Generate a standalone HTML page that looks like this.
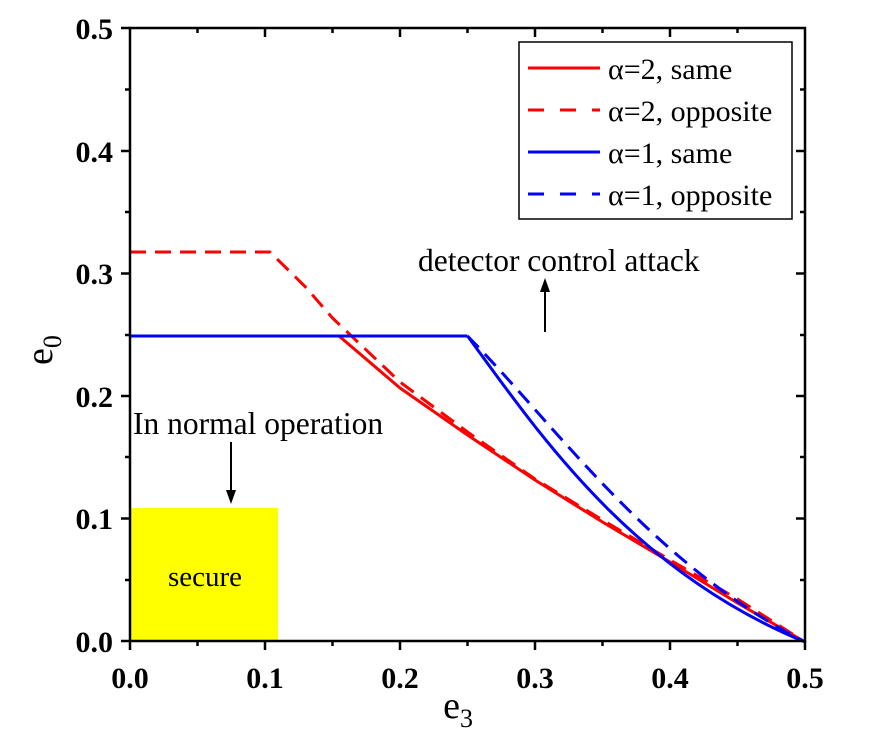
<!DOCTYPE html>
<html><head><meta charset="utf-8"><style>
body{margin:0;background:#fff;}
svg{display:block;font-family:"Liberation Serif",serif;}
</style></head><body>
<svg width="870" height="735" viewBox="0 0 870 735" xmlns="http://www.w3.org/2000/svg">
<rect width="870" height="735" fill="#fff"/>
<rect x="130" y="508" width="148" height="134" fill="#ffff00"/>
<text x="205" y="586" font-size="29" text-anchor="middle">secure</text>
<g fill="none" stroke-width="3" stroke-linejoin="round">
<polyline stroke="#ff0000" points="339,336 400,388 467.5,435 535,480 602.5,522 670,562 737.5,603 805,642"/>
<polyline stroke="#ff0000" stroke-dasharray="16,9" points="130,252 270,252 305.5,287 332.5,318 400,382 467.5,432 535,479 602.5,520 670,560 737.5,599 805,642"/>
<polyline stroke="#0000ff" points="130,336 467.5,336"/>
<path stroke="#0000ff" d="M467.5,336 C538,432 630,570 805,642"/>
<path stroke="#0000ff" stroke-dasharray="16,9" d="M467.5,336 C558,428 650,562 805,642"/>
</g>
<g stroke="#000" stroke-width="2.5" fill="none">
<rect x="130" y="28" width="675" height="613"/>
</g>
<g stroke="#000" stroke-width="2.5">
<line x1="130" y1="641" x2="130" y2="650"/><line x1="265" y1="641" x2="265" y2="650"/><line x1="400" y1="641" x2="400" y2="650"/><line x1="535" y1="641" x2="535" y2="650"/><line x1="670" y1="641" x2="670" y2="650"/><line x1="805" y1="641" x2="805" y2="650"/>
<line x1="197.5" y1="641" x2="197.5" y2="646"/><line x1="332.5" y1="641" x2="332.5" y2="646"/><line x1="467.5" y1="641" x2="467.5" y2="646"/><line x1="602.5" y1="641" x2="602.5" y2="646"/><line x1="737.5" y1="641" x2="737.5" y2="646"/>
<line x1="265" y1="28" x2="265" y2="37"/><line x1="400" y1="28" x2="400" y2="37"/><line x1="535" y1="28" x2="535" y2="37"/><line x1="670" y1="28" x2="670" y2="37"/>
<line x1="197.5" y1="28" x2="197.5" y2="33"/><line x1="332.5" y1="28" x2="332.5" y2="33"/><line x1="467.5" y1="28" x2="467.5" y2="33"/><line x1="602.5" y1="28" x2="602.5" y2="33"/><line x1="737.5" y1="28" x2="737.5" y2="33"/>
<line x1="121" y1="28" x2="130" y2="28"/><line x1="121" y1="151" x2="130" y2="151"/><line x1="121" y1="273.5" x2="130" y2="273.5"/><line x1="121" y1="396" x2="130" y2="396"/><line x1="121" y1="518.5" x2="130" y2="518.5"/><line x1="121" y1="641" x2="130" y2="641"/>
<line x1="125" y1="89.5" x2="130" y2="89.5"/><line x1="125" y1="212" x2="130" y2="212"/><line x1="125" y1="335" x2="130" y2="335"/><line x1="125" y1="457" x2="130" y2="457"/><line x1="125" y1="580" x2="130" y2="580"/>
<line x1="796" y1="151" x2="805" y2="151"/><line x1="796" y1="273.5" x2="805" y2="273.5"/><line x1="796" y1="396" x2="805" y2="396"/><line x1="796" y1="518.5" x2="805" y2="518.5"/>
<line x1="800" y1="89.5" x2="805" y2="89.5"/><line x1="800" y1="212" x2="805" y2="212"/><line x1="800" y1="335" x2="805" y2="335"/><line x1="800" y1="457" x2="805" y2="457"/><line x1="800" y1="580" x2="805" y2="580"/>
</g>
<g font-size="30" font-weight="bold" text-anchor="end">
<text x="113" y="39">0.5</text><text x="113" y="162">0.4</text><text x="113" y="284">0.3</text><text x="113" y="407">0.2</text><text x="113" y="529">0.1</text><text x="113" y="652">0.0</text>
</g>
<g font-size="30" font-weight="bold" text-anchor="middle">
<text x="130" y="688">0.0</text><text x="265" y="688">0.1</text><text x="400" y="688">0.2</text><text x="535" y="688">0.3</text><text x="670" y="688">0.4</text><text x="805" y="688">0.5</text>
</g>
<text x="458" y="718" font-size="38" text-anchor="middle">e<tspan font-size="26" dy="9">3</tspan></text>
<text transform="translate(52,350) rotate(-90)" font-size="38" text-anchor="middle">e<tspan font-size="26" dy="9">0</tspan></text>
<text x="133" y="434" font-size="31.5">In normal operation</text>
<line x1="231" y1="442" x2="231" y2="492" stroke="#000" stroke-width="2"/>
<polygon points="226,490 236,490 231,504" fill="#000"/>
<text x="418" y="271" font-size="31.5">detector control attack</text>
<line x1="545" y1="332" x2="545" y2="290" stroke="#000" stroke-width="2"/>
<polygon points="540,292 550,292 545,278" fill="#000"/>
<rect x="519" y="42" width="273" height="177" fill="#fff" stroke="#000" stroke-width="1.5"/>
<g stroke-width="3">
<line x1="528" y1="68" x2="600" y2="68" stroke="#ff0000"/>
<line x1="528" y1="110" x2="600" y2="110" stroke="#ff0000" stroke-dasharray="16,16"/>
<line x1="528" y1="152" x2="600" y2="152" stroke="#0000ff"/>
<line x1="528" y1="194" x2="600" y2="194" stroke="#0000ff" stroke-dasharray="16,16"/>
</g>
<g font-size="30">
<text x="608" y="79">α=2, same</text>
<text x="608" y="121">α=2, opposite</text>
<text x="608" y="163">α=1, same</text>
<text x="608" y="205">α=1, opposite</text>
</g>
</svg>
</body></html>
